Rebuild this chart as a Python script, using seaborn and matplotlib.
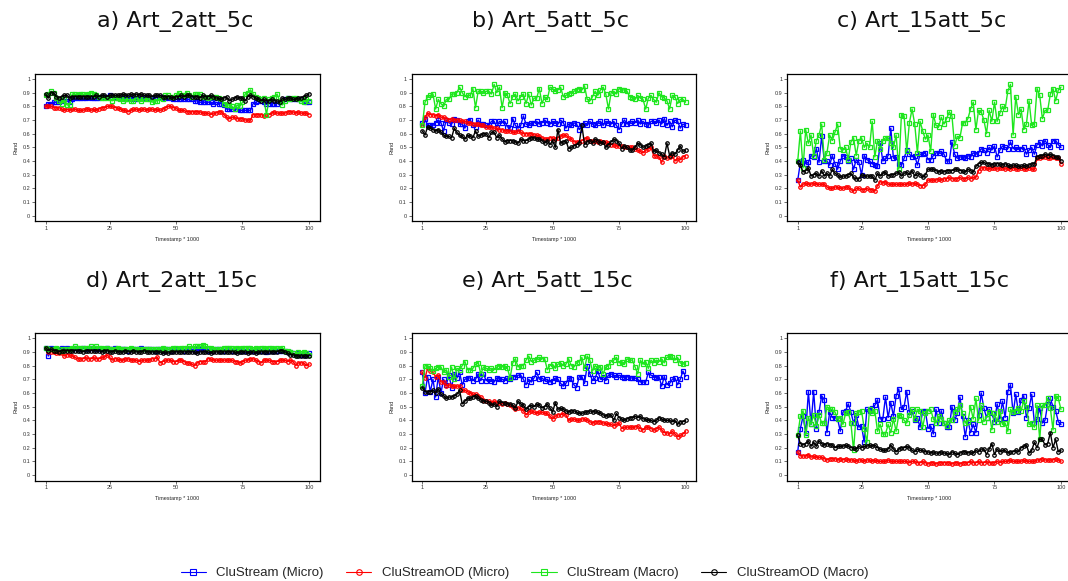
import matplotlib
matplotlib.use('Agg')
import matplotlib.pyplot as plt
from matplotlib.lines import Line2D
import seaborn as sns

timestamps = list(range(1, 101))
x_ticks = [1, 25, 50, 75, 100]
y_ticks = [0, 0.1, 0.2, 0.3, 0.4, 0.5, 0.6, 0.7, 0.8, 0.9, 1]
y_tick_labels = ['0', '0.1', '0.2', '0.3', '0.4', '0.5', '0.6', '0.7', '0.8', '0.9', '1']
methods = ['CluStream (Micro)', 'CluStreamOD (Micro)', 'CluStream (Macro)', 'CluStreamOD (Macro)']
titles = ['a) Art_2att_5c', 'b) Art_5att_5c', 'c) Art_15att_5c',
          'd) Art_2att_15c', 'e) Art_5att_15c', 'f) Art_15att_15c']

# a) Art_2att_5c
a_cs_micro = [0.80, 0.82, 0.82, 0.83, 0.83, 0.83, 0.84, 0.85, 0.84, 0.83,
              0.85, 0.86, 0.86, 0.86, 0.86, 0.86, 0.87, 0.86, 0.86, 0.86,
              0.86, 0.87, 0.87, 0.87, 0.88, 0.87, 0.87, 0.86, 0.86, 0.86,
              0.85, 0.86, 0.85, 0.86, 0.85, 0.86, 0.86, 0.86, 0.86, 0.86,
              0.86, 0.86, 0.87, 0.87, 0.87, 0.86, 0.86, 0.86, 0.85, 0.85,
              0.85, 0.85, 0.85, 0.85, 0.85, 0.85, 0.84, 0.84, 0.83, 0.83,
              0.83, 0.83, 0.83, 0.82, 0.83, 0.82, 0.82, 0.81, 0.78, 0.78,
              0.78, 0.78, 0.78, 0.77, 0.77, 0.77, 0.77, 0.77, 0.82, 0.83,
              0.84, 0.84, 0.83, 0.82, 0.82, 0.82, 0.82, 0.82, 0.83, 0.84,
              0.85, 0.86, 0.85, 0.85, 0.85, 0.85, 0.85, 0.84, 0.83, 0.83]
a_od_micro = [0.80, 0.80, 0.80, 0.79, 0.79, 0.79, 0.78, 0.77, 0.78, 0.77,
              0.78, 0.78, 0.77, 0.77, 0.77, 0.78, 0.78, 0.77, 0.78, 0.77,
              0.78, 0.79, 0.79, 0.80, 0.80, 0.80, 0.79, 0.79, 0.78, 0.77,
              0.77, 0.76, 0.77, 0.78, 0.78, 0.77, 0.78, 0.78, 0.77, 0.78,
              0.78, 0.77, 0.78, 0.77, 0.78, 0.79, 0.80, 0.80, 0.79, 0.79,
              0.77, 0.77, 0.77, 0.76, 0.76, 0.76, 0.76, 0.76, 0.76, 0.75,
              0.75, 0.75, 0.74, 0.75, 0.75, 0.76, 0.76, 0.74, 0.72, 0.71,
              0.72, 0.72, 0.71, 0.71, 0.71, 0.70, 0.70, 0.70, 0.74, 0.74,
              0.74, 0.74, 0.73, 0.74, 0.74, 0.75, 0.76, 0.75, 0.75, 0.75,
              0.75, 0.76, 0.76, 0.76, 0.75, 0.76, 0.75, 0.75, 0.75, 0.74]
a_cs_macro = [0.88, 0.89, 0.91, 0.90, 0.86, 0.84, 0.82, 0.85, 0.81, 0.81,
              0.89, 0.89, 0.88, 0.89, 0.89, 0.88, 0.89, 0.90, 0.89, 0.88,
              0.87, 0.86, 0.86, 0.86, 0.86, 0.84, 0.86, 0.86, 0.85, 0.84,
              0.85, 0.85, 0.84, 0.84, 0.86, 0.85, 0.84, 0.85, 0.85, 0.85,
              0.83, 0.84, 0.84, 0.86, 0.85, 0.88, 0.88, 0.87, 0.87, 0.88,
              0.90, 0.88, 0.88, 0.90, 0.88, 0.87, 0.89, 0.89, 0.89, 0.87,
              0.87, 0.86, 0.87, 0.87, 0.87, 0.86, 0.85, 0.82, 0.81, 0.81,
              0.80, 0.78, 0.81, 0.80, 0.83, 0.89, 0.90, 0.92, 0.89, 0.87,
              0.86, 0.85, 0.86, 0.74, 0.85, 0.86, 0.87, 0.89, 0.84, 0.81,
              0.84, 0.86, 0.85, 0.86, 0.86, 0.85, 0.84, 0.83, 0.85, 0.84]
a_od_macro = [0.89, 0.86, 0.90, 0.90, 0.87, 0.86, 0.87, 0.88, 0.88, 0.86,
              0.87, 0.87, 0.87, 0.87, 0.87, 0.87, 0.87, 0.87, 0.87, 0.88,
              0.87, 0.88, 0.88, 0.87, 0.88, 0.88, 0.88, 0.88, 0.88, 0.89,
              0.88, 0.88, 0.89, 0.88, 0.89, 0.88, 0.89, 0.88, 0.88, 0.88,
              0.87, 0.88, 0.88, 0.88, 0.87, 0.87, 0.87, 0.87, 0.86, 0.87,
              0.87, 0.88, 0.87, 0.88, 0.88, 0.87, 0.87, 0.87, 0.86, 0.88,
              0.87, 0.87, 0.88, 0.87, 0.86, 0.86, 0.85, 0.86, 0.87, 0.84,
              0.85, 0.86, 0.87, 0.86, 0.86, 0.84, 0.87, 0.88, 0.87, 0.86,
              0.85, 0.84, 0.85, 0.84, 0.84, 0.85, 0.84, 0.84, 0.83, 0.86,
              0.85, 0.86, 0.86, 0.85, 0.85, 0.86, 0.86, 0.87, 0.88, 0.89]

# b) Art_5att_5c
b_cs_micro = [0.68, 0.71, 0.66, 0.66, 0.66, 0.68, 0.70, 0.68, 0.62, 0.70,
              0.68, 0.67, 0.71, 0.70, 0.67, 0.67, 0.64, 0.69, 0.70, 0.66,
              0.65, 0.70, 0.67, 0.67, 0.66, 0.66, 0.69, 0.69, 0.65, 0.69,
              0.68, 0.69, 0.65, 0.64, 0.71, 0.66, 0.64, 0.66, 0.73, 0.67,
              0.66, 0.68, 0.68, 0.69, 0.67, 0.68, 0.70, 0.68, 0.67, 0.69,
              0.68, 0.67, 0.70, 0.68, 0.64, 0.67, 0.66, 0.68, 0.67, 0.63,
              0.66, 0.68, 0.66, 0.69, 0.67, 0.66, 0.68, 0.69, 0.66, 0.69,
              0.68, 0.67, 0.69, 0.66, 0.63, 0.67, 0.70, 0.67, 0.68, 0.69,
              0.68, 0.70, 0.67, 0.69, 0.67, 0.66, 0.69, 0.69, 0.68, 0.70,
              0.67, 0.71, 0.66, 0.69, 0.65, 0.70, 0.69, 0.64, 0.67, 0.66]
b_od_micro = [0.66, 0.72, 0.75, 0.74, 0.74, 0.73, 0.74, 0.72, 0.72, 0.71,
              0.70, 0.71, 0.70, 0.70, 0.70, 0.69, 0.69, 0.68, 0.68, 0.67,
              0.67, 0.67, 0.66, 0.66, 0.65, 0.65, 0.65, 0.64, 0.64, 0.63,
              0.63, 0.62, 0.62, 0.62, 0.61, 0.61, 0.62, 0.61, 0.60, 0.60,
              0.60, 0.60, 0.59, 0.59, 0.58, 0.57, 0.56, 0.56, 0.57, 0.57,
              0.56, 0.57, 0.58, 0.59, 0.59, 0.57, 0.56, 0.54, 0.54, 0.54,
              0.55, 0.56, 0.57, 0.55, 0.55, 0.55, 0.54, 0.55, 0.54, 0.54,
              0.53, 0.52, 0.52, 0.51, 0.51, 0.51, 0.50, 0.50, 0.50, 0.50,
              0.49, 0.48, 0.47, 0.46, 0.48, 0.49, 0.50, 0.44, 0.44, 0.43,
              0.39, 0.44, 0.42, 0.43, 0.44, 0.40, 0.42, 0.41, 0.43, 0.44]
b_cs_macro = [0.66, 0.83, 0.87, 0.88, 0.89, 0.78, 0.85, 0.82, 0.80, 0.85,
              0.85, 0.89, 0.89, 0.90, 0.94, 0.90, 0.87, 0.88, 0.88, 0.93,
              0.79, 0.91, 0.91, 0.90, 0.91, 0.91, 0.89, 0.96, 0.90, 0.94,
              0.79, 0.90, 0.88, 0.82, 0.87, 0.89, 0.84, 0.87, 0.89, 0.82,
              0.89, 0.81, 0.86, 0.86, 0.93, 0.82, 0.87, 0.85, 0.94, 0.93,
              0.91, 0.92, 0.94, 0.87, 0.88, 0.89, 0.90, 0.91, 0.92, 0.93,
              0.92, 0.95, 0.85, 0.84, 0.87, 0.91, 0.88, 0.92, 0.94, 0.89,
              0.78, 0.90, 0.91, 0.89, 0.93, 0.92, 0.92, 0.91, 0.87, 0.86,
              0.85, 0.88, 0.86, 0.85, 0.78, 0.86, 0.88, 0.85, 0.83, 0.90,
              0.87, 0.86, 0.84, 0.78, 0.88, 0.87, 0.82, 0.85, 0.85, 0.83]
b_od_macro = [0.62, 0.59, 0.65, 0.64, 0.63, 0.62, 0.63, 0.61, 0.59, 0.58,
              0.58, 0.57, 0.64, 0.61, 0.59, 0.58, 0.56, 0.59, 0.58, 0.57,
              0.62, 0.58, 0.59, 0.60, 0.60, 0.57, 0.61, 0.61, 0.57, 0.59,
              0.56, 0.54, 0.55, 0.55, 0.55, 0.54, 0.53, 0.56, 0.55, 0.55,
              0.56, 0.57, 0.57, 0.56, 0.56, 0.55, 0.53, 0.55, 0.52, 0.55,
              0.50, 0.63, 0.53, 0.54, 0.55, 0.49, 0.50, 0.51, 0.52, 0.53,
              0.66, 0.52, 0.54, 0.55, 0.53, 0.56, 0.55, 0.53, 0.54, 0.50,
              0.52, 0.54, 0.56, 0.55, 0.53, 0.49, 0.51, 0.50, 0.48, 0.48,
              0.50, 0.53, 0.52, 0.50, 0.51, 0.52, 0.53, 0.47, 0.48, 0.46,
              0.45, 0.43, 0.53, 0.44, 0.46, 0.45, 0.48, 0.51, 0.47, 0.48]

# c) Art_15att_5c
c_cs_micro = [0.26, 0.39, 0.41, 0.38, 0.39, 0.44, 0.43, 0.49, 0.39, 0.58,
              0.40, 0.40, 0.37, 0.44, 0.38, 0.34, 0.40, 0.44, 0.43, 0.40,
              0.42, 0.34, 0.41, 0.39, 0.30, 0.44, 0.41, 0.40, 0.38, 0.37,
              0.36, 0.53, 0.40, 0.42, 0.44, 0.64, 0.42, 0.43, 0.38, 0.37,
              0.42, 0.48, 0.45, 0.43, 0.44, 0.37, 0.45, 0.45, 0.46, 0.41,
              0.41, 0.44, 0.46, 0.46, 0.47, 0.45, 0.40, 0.40, 0.54, 0.45,
              0.42, 0.43, 0.43, 0.42, 0.44, 0.43, 0.46, 0.45, 0.46, 0.49,
              0.48, 0.46, 0.50, 0.48, 0.51, 0.43, 0.48, 0.51, 0.50, 0.49,
              0.54, 0.49, 0.50, 0.49, 0.49, 0.50, 0.45, 0.48, 0.50, 0.45,
              0.52, 0.54, 0.51, 0.55, 0.52, 0.50, 0.55, 0.55, 0.52, 0.50]
c_od_micro = [0.26, 0.21, 0.23, 0.24, 0.23, 0.23, 0.24, 0.23, 0.23, 0.23,
              0.23, 0.21, 0.20, 0.20, 0.21, 0.21, 0.20, 0.20, 0.21, 0.21,
              0.19, 0.18, 0.20, 0.20, 0.19, 0.19, 0.20, 0.19, 0.19, 0.18,
              0.22, 0.25, 0.24, 0.25, 0.23, 0.23, 0.23, 0.23, 0.23, 0.23,
              0.23, 0.23, 0.24, 0.23, 0.24, 0.23, 0.22, 0.22, 0.23, 0.26,
              0.26, 0.26, 0.26, 0.27, 0.26, 0.27, 0.27, 0.28, 0.27, 0.27,
              0.27, 0.28, 0.27, 0.27, 0.28, 0.27, 0.28, 0.28, 0.33, 0.35,
              0.35, 0.35, 0.34, 0.35, 0.35, 0.34, 0.35, 0.35, 0.34, 0.35,
              0.34, 0.35, 0.34, 0.34, 0.35, 0.34, 0.34, 0.35, 0.34, 0.34,
              0.42, 0.42, 0.43, 0.43, 0.42, 0.42, 0.43, 0.42, 0.42, 0.38]
c_cs_macro = [0.40, 0.62, 0.35, 0.63, 0.53, 0.59, 0.44, 0.55, 0.59, 0.67,
              0.41, 0.46, 0.59, 0.55, 0.61, 0.67, 0.49, 0.48, 0.50, 0.41,
              0.54, 0.57, 0.44, 0.55, 0.57, 0.50, 0.53, 0.50, 0.69, 0.43,
              0.55, 0.49, 0.55, 0.57, 0.57, 0.53, 0.50, 0.59, 0.34, 0.74,
              0.73, 0.47, 0.68, 0.78, 0.67, 0.46, 0.69, 0.62, 0.56, 0.59,
              0.47, 0.74, 0.66, 0.65, 0.72, 0.67, 0.71, 0.76, 0.73, 0.51,
              0.58, 0.57, 0.68, 0.68, 0.71, 0.78, 0.83, 0.63, 0.77, 0.76,
              0.70, 0.60, 0.77, 0.69, 0.83, 0.69, 0.75, 0.80, 0.78, 0.91,
              0.96, 0.59, 0.87, 0.74, 0.78, 0.63, 0.67, 0.84, 0.66, 0.67,
              0.93, 0.88, 0.71, 0.77, 0.77, 0.89, 0.93, 0.84, 0.92, 0.94]
c_od_macro = [0.39, 0.37, 0.32, 0.33, 0.35, 0.29, 0.30, 0.31, 0.29, 0.33,
              0.29, 0.31, 0.29, 0.34, 0.31, 0.30, 0.28, 0.29, 0.29, 0.30,
              0.31, 0.28, 0.27, 0.27, 0.30, 0.29, 0.29, 0.29, 0.29, 0.26,
              0.31, 0.29, 0.31, 0.32, 0.29, 0.30, 0.30, 0.31, 0.32, 0.29,
              0.31, 0.32, 0.30, 0.33, 0.29, 0.31, 0.30, 0.28, 0.30, 0.34,
              0.34, 0.34, 0.33, 0.32, 0.33, 0.32, 0.33, 0.33, 0.33, 0.34,
              0.34, 0.33, 0.33, 0.32, 0.34, 0.33, 0.32, 0.36, 0.38, 0.39,
              0.39, 0.38, 0.38, 0.37, 0.38, 0.38, 0.38, 0.37, 0.38, 0.37,
              0.36, 0.37, 0.37, 0.36, 0.36, 0.37, 0.36, 0.37, 0.38, 0.38,
              0.43, 0.44, 0.44, 0.45, 0.44, 0.45, 0.44, 0.43, 0.43, 0.40]

# d) Art_2att_15c
d_cs_micro = [0.93, 0.87, 0.93, 0.92, 0.92, 0.92, 0.93, 0.92, 0.93, 0.92,
              0.92, 0.93, 0.92, 0.92, 0.93, 0.92, 0.92, 0.93, 0.93, 0.92,
              0.92, 0.92, 0.92, 0.93, 0.92, 0.92, 0.93, 0.92, 0.92, 0.92,
              0.92, 0.91, 0.92, 0.92, 0.92, 0.92, 0.93, 0.92, 0.92, 0.92,
              0.92, 0.91, 0.92, 0.92, 0.91, 0.92, 0.92, 0.91, 0.92, 0.92,
              0.92, 0.92, 0.91, 0.92, 0.92, 0.92, 0.91, 0.92, 0.92, 0.92,
              0.92, 0.91, 0.92, 0.91, 0.92, 0.92, 0.91, 0.91, 0.92, 0.92,
              0.91, 0.91, 0.92, 0.91, 0.91, 0.91, 0.91, 0.91, 0.91, 0.91,
              0.91, 0.91, 0.91, 0.90, 0.91, 0.91, 0.91, 0.91, 0.91, 0.91,
              0.91, 0.90, 0.90, 0.89, 0.88, 0.89, 0.88, 0.88, 0.88, 0.89]
d_od_micro = [0.93, 0.90, 0.90, 0.90, 0.89, 0.89, 0.89, 0.87, 0.88, 0.88,
              0.87, 0.86, 0.85, 0.85, 0.85, 0.86, 0.85, 0.85, 0.86, 0.85,
              0.85, 0.86, 0.86, 0.88, 0.86, 0.84, 0.85, 0.85, 0.84, 0.84,
              0.85, 0.85, 0.84, 0.84, 0.84, 0.83, 0.84, 0.84, 0.84, 0.84,
              0.85, 0.85, 0.86, 0.82, 0.83, 0.84, 0.84, 0.84, 0.83, 0.83,
              0.84, 0.84, 0.83, 0.82, 0.82, 0.81, 0.80, 0.82, 0.83, 0.83,
              0.83, 0.85, 0.85, 0.84, 0.84, 0.84, 0.84, 0.84, 0.84, 0.84,
              0.84, 0.83, 0.83, 0.82, 0.83, 0.84, 0.84, 0.85, 0.85, 0.84,
              0.83, 0.82, 0.84, 0.84, 0.84, 0.83, 0.83, 0.83, 0.84, 0.84,
              0.84, 0.83, 0.84, 0.83, 0.80, 0.82, 0.82, 0.82, 0.80, 0.81]
d_cs_macro = [0.93, 0.92, 0.92, 0.92, 0.93, 0.92, 0.91, 0.92, 0.92, 0.92,
              0.93, 0.94, 0.93, 0.93, 0.93, 0.93, 0.93, 0.94, 0.93, 0.94,
              0.93, 0.93, 0.92, 0.93, 0.92, 0.92, 0.92, 0.93, 0.92, 0.92,
              0.92, 0.92, 0.93, 0.92, 0.92, 0.92, 0.92, 0.92, 0.92, 0.92,
              0.92, 0.92, 0.92, 0.92, 0.93, 0.92, 0.92, 0.92, 0.93, 0.93,
              0.92, 0.93, 0.93, 0.93, 0.94, 0.93, 0.94, 0.94, 0.94, 0.95,
              0.94, 0.93, 0.93, 0.92, 0.92, 0.92, 0.92, 0.93, 0.93, 0.93,
              0.93, 0.92, 0.93, 0.92, 0.93, 0.93, 0.93, 0.93, 0.92, 0.93,
              0.92, 0.93, 0.93, 0.92, 0.93, 0.93, 0.92, 0.93, 0.92, 0.93,
              0.91, 0.91, 0.90, 0.89, 0.88, 0.90, 0.89, 0.90, 0.89, 0.88]
d_od_macro = [0.93, 0.91, 0.92, 0.91, 0.91, 0.90, 0.91, 0.91, 0.91, 0.91,
              0.91, 0.91, 0.91, 0.91, 0.90, 0.91, 0.91, 0.91, 0.91, 0.91,
              0.91, 0.90, 0.91, 0.91, 0.90, 0.90, 0.91, 0.90, 0.90, 0.90,
              0.91, 0.90, 0.90, 0.91, 0.90, 0.90, 0.90, 0.91, 0.90, 0.90,
              0.90, 0.90, 0.90, 0.90, 0.89, 0.90, 0.89, 0.90, 0.90, 0.90,
              0.90, 0.90, 0.90, 0.90, 0.90, 0.90, 0.90, 0.89, 0.90, 0.90,
              0.90, 0.90, 0.89, 0.90, 0.90, 0.90, 0.90, 0.90, 0.90, 0.90,
              0.90, 0.90, 0.89, 0.90, 0.90, 0.90, 0.89, 0.90, 0.90, 0.89,
              0.90, 0.90, 0.90, 0.90, 0.90, 0.90, 0.90, 0.90, 0.91, 0.91,
              0.90, 0.89, 0.88, 0.88, 0.87, 0.87, 0.87, 0.87, 0.87, 0.87]

# e) Art_5att_15c
e_cs_micro = [0.75, 0.60, 0.72, 0.61, 0.70, 0.57, 0.72, 0.60, 0.70, 0.66,
              0.73, 0.64, 0.74, 0.71, 0.75, 0.66, 0.70, 0.71, 0.71, 0.69,
              0.70, 0.74, 0.69, 0.74, 0.69, 0.70, 0.69, 0.68, 0.71, 0.70,
              0.70, 0.69, 0.71, 0.70, 0.72, 0.72, 0.73, 0.73, 0.70, 0.66,
              0.70, 0.68, 0.71, 0.75, 0.70, 0.71, 0.69, 0.70, 0.68, 0.69,
              0.71, 0.70, 0.67, 0.65, 0.67, 0.71, 0.70, 0.66, 0.64, 0.72,
              0.72, 0.67, 0.80, 0.74, 0.69, 0.71, 0.76, 0.70, 0.72, 0.69,
              0.73, 0.74, 0.73, 0.72, 0.73, 0.72, 0.71, 0.72, 0.71, 0.71,
              0.71, 0.70, 0.68, 0.68, 0.68, 0.75, 0.73, 0.72, 0.71, 0.72,
              0.65, 0.72, 0.66, 0.67, 0.70, 0.71, 0.66, 0.70, 0.76, 0.72]
e_od_micro = [0.75, 0.71, 0.78, 0.76, 0.75, 0.72, 0.73, 0.68, 0.68, 0.65,
              0.66, 0.65, 0.65, 0.65, 0.65, 0.62, 0.62, 0.61, 0.60, 0.59,
              0.59, 0.58, 0.57, 0.55, 0.54, 0.54, 0.53, 0.54, 0.53, 0.53,
              0.52, 0.53, 0.52, 0.51, 0.50, 0.48, 0.49, 0.49, 0.47, 0.44,
              0.46, 0.47, 0.46, 0.45, 0.46, 0.46, 0.45, 0.45, 0.43, 0.41,
              0.43, 0.44, 0.44, 0.45, 0.44, 0.40, 0.41, 0.41, 0.40, 0.40,
              0.41, 0.41, 0.40, 0.39, 0.38, 0.39, 0.39, 0.39, 0.38, 0.38,
              0.37, 0.37, 0.36, 0.37, 0.38, 0.34, 0.35, 0.35, 0.35, 0.35,
              0.35, 0.36, 0.34, 0.33, 0.35, 0.35, 0.34, 0.33, 0.34, 0.35,
              0.33, 0.31, 0.31, 0.30, 0.32, 0.30, 0.28, 0.29, 0.30, 0.32]
e_cs_macro = [0.65, 0.80, 0.80, 0.78, 0.76, 0.78, 0.79, 0.79, 0.75, 0.77,
              0.72, 0.79, 0.70, 0.78, 0.77, 0.80, 0.83, 0.77, 0.77, 0.78,
              0.81, 0.82, 0.74, 0.79, 0.78, 0.77, 0.78, 0.77, 0.79, 0.80,
              0.79, 0.80, 0.78, 0.71, 0.82, 0.85, 0.79, 0.80, 0.80, 0.84,
              0.87, 0.83, 0.84, 0.85, 0.86, 0.85, 0.85, 0.77, 0.80, 0.81,
              0.78, 0.81, 0.82, 0.80, 0.81, 0.85, 0.80, 0.79, 0.82, 0.83,
              0.86, 0.78, 0.87, 0.84, 0.76, 0.80, 0.78, 0.79, 0.74, 0.79,
              0.80, 0.83, 0.84, 0.86, 0.82, 0.83, 0.81, 0.85, 0.84, 0.84,
              0.79, 0.74, 0.84, 0.81, 0.83, 0.78, 0.84, 0.82, 0.84, 0.83,
              0.85, 0.82, 0.86, 0.87, 0.86, 0.84, 0.86, 0.82, 0.81, 0.82]
e_od_macro = [0.64, 0.61, 0.61, 0.61, 0.62, 0.60, 0.63, 0.59, 0.58, 0.56,
              0.57, 0.57, 0.58, 0.59, 0.62, 0.52, 0.54, 0.56, 0.56, 0.57,
              0.58, 0.56, 0.55, 0.54, 0.54, 0.53, 0.51, 0.52, 0.50, 0.54,
              0.53, 0.53, 0.52, 0.52, 0.51, 0.49, 0.54, 0.52, 0.51, 0.48,
              0.50, 0.51, 0.50, 0.52, 0.51, 0.49, 0.50, 0.52, 0.49, 0.46,
              0.53, 0.48, 0.49, 0.48, 0.47, 0.46, 0.47, 0.47, 0.46, 0.45,
              0.45, 0.46, 0.46, 0.47, 0.46, 0.47, 0.46, 0.45, 0.44, 0.43,
              0.44, 0.44, 0.40, 0.45, 0.42, 0.41, 0.40, 0.41, 0.42, 0.42,
              0.43, 0.42, 0.43, 0.41, 0.41, 0.40, 0.40, 0.39, 0.40, 0.42,
              0.41, 0.40, 0.40, 0.40, 0.39, 0.40, 0.37, 0.39, 0.39, 0.40]

# f) Art_15att_15c
f_cs_micro = [0.17, 0.34, 0.43, 0.31, 0.61, 0.37, 0.61, 0.34, 0.46, 0.58,
              0.55, 0.31, 0.46, 0.42, 0.42, 0.41, 0.32, 0.46, 0.47, 0.52,
              0.46, 0.38, 0.44, 0.35, 0.36, 0.24, 0.48, 0.47, 0.49, 0.51,
              0.55, 0.41, 0.41, 0.57, 0.42, 0.53, 0.43, 0.58, 0.63, 0.48,
              0.50, 0.61, 0.46, 0.47, 0.40, 0.42, 0.35, 0.47, 0.47, 0.34,
              0.36, 0.30, 0.48, 0.38, 0.47, 0.38, 0.35, 0.35, 0.50, 0.40,
              0.45, 0.57, 0.43, 0.28, 0.40, 0.31, 0.37, 0.31, 0.44, 0.60,
              0.49, 0.42, 0.48, 0.45, 0.39, 0.52, 0.41, 0.54, 0.42, 0.61,
              0.66, 0.45, 0.59, 0.46, 0.55, 0.58, 0.42, 0.49, 0.59, 0.38,
              0.41, 0.49, 0.38, 0.40, 0.52, 0.56, 0.50, 0.47, 0.39, 0.37]
f_od_micro = [0.17, 0.14, 0.14, 0.14, 0.15, 0.13, 0.14, 0.13, 0.13, 0.13,
              0.12, 0.11, 0.12, 0.12, 0.12, 0.11, 0.12, 0.11, 0.12, 0.11,
              0.11, 0.11, 0.10, 0.11, 0.11, 0.10, 0.11, 0.11, 0.10, 0.11,
              0.10, 0.10, 0.10, 0.10, 0.11, 0.10, 0.10, 0.10, 0.10, 0.10,
              0.10, 0.10, 0.09, 0.10, 0.10, 0.09, 0.09, 0.10, 0.09, 0.08,
              0.09, 0.09, 0.08, 0.09, 0.09, 0.09, 0.09, 0.09, 0.08, 0.09,
              0.09, 0.08, 0.09, 0.09, 0.09, 0.10, 0.09, 0.09, 0.10, 0.09,
              0.09, 0.10, 0.09, 0.09, 0.09, 0.10, 0.09, 0.10, 0.10, 0.10,
              0.11, 0.10, 0.10, 0.10, 0.10, 0.11, 0.10, 0.10, 0.10, 0.10,
              0.11, 0.11, 0.12, 0.11, 0.11, 0.11, 0.11, 0.12, 0.11, 0.10]
f_cs_macro = [0.29, 0.43, 0.47, 0.29, 0.42, 0.37, 0.44, 0.36, 0.44, 0.38,
              0.38, 0.50, 0.48, 0.48, 0.46, 0.41, 0.42, 0.37, 0.45, 0.46,
              0.38, 0.18, 0.45, 0.46, 0.47, 0.34, 0.24, 0.48, 0.45, 0.47,
              0.32, 0.37, 0.30, 0.30, 0.37, 0.31, 0.41, 0.32, 0.44, 0.43,
              0.40, 0.38, 0.44, 0.48, 0.41, 0.48, 0.47, 0.35, 0.45, 0.47,
              0.48, 0.41, 0.38, 0.43, 0.41, 0.38, 0.36, 0.40, 0.40, 0.46,
              0.48, 0.51, 0.45, 0.38, 0.39, 0.50, 0.41, 0.56, 0.40, 0.51,
              0.39, 0.42, 0.46, 0.33, 0.45, 0.39, 0.47, 0.37, 0.38, 0.32,
              0.48, 0.46, 0.47, 0.49, 0.47, 0.54, 0.50, 0.37, 0.38, 0.35,
              0.51, 0.26, 0.51, 0.51, 0.56, 0.49, 0.33, 0.58, 0.56, 0.48]
f_od_macro = [0.29, 0.23, 0.22, 0.23, 0.25, 0.21, 0.24, 0.21, 0.25, 0.23,
              0.22, 0.23, 0.22, 0.22, 0.20, 0.21, 0.21, 0.21, 0.22, 0.21,
              0.20, 0.20, 0.19, 0.21, 0.20, 0.21, 0.21, 0.22, 0.21, 0.22,
              0.20, 0.19, 0.18, 0.18, 0.19, 0.22, 0.19, 0.17, 0.19, 0.20,
              0.20, 0.21, 0.20, 0.18, 0.17, 0.19, 0.18, 0.18, 0.17, 0.17,
              0.16, 0.17, 0.16, 0.16, 0.17, 0.16, 0.16, 0.15, 0.17, 0.16,
              0.15, 0.16, 0.17, 0.17, 0.16, 0.17, 0.16, 0.18, 0.17, 0.19,
              0.19, 0.15, 0.19, 0.23, 0.15, 0.19, 0.17, 0.18, 0.18, 0.16,
              0.17, 0.17, 0.18, 0.17, 0.20, 0.21, 0.22, 0.16, 0.18, 0.24,
              0.20, 0.26, 0.26, 0.22, 0.23, 0.31, 0.20, 0.26, 0.17, 0.18]

panels = [
    [a_cs_micro, a_od_micro, a_cs_macro, a_od_macro],
    [b_cs_micro, b_od_micro, b_cs_macro, b_od_macro],
    [c_cs_micro, c_od_micro, c_cs_macro, c_od_macro],
    [d_cs_micro, d_od_micro, d_cs_macro, d_od_macro],
    [e_cs_micro, e_od_micro, e_cs_macro, e_od_macro],
    [f_cs_micro, f_od_micro, f_cs_macro, f_od_macro],
]

colors = ['#0000ff', '#ff0000', '#1ee61e', '#000000']
markers = ['s', 'o', 's', 'o']

sns.set_style('white')
plt.rcParams['font.family'] = ['Liberation Sans', 'DejaVu Sans']

W, H = 1068, 581
fig = plt.figure(figsize=(W / 100, H / 100), dpi=100)

# axes boxes in pixels (left, top); all the same size
box_w, box_h = 284.3, 147.7
boxes = [(35.2, 73.5), (411.8, 73.5), (787.2, 73.5),
         (35.2, 332.8), (411.8, 332.8), (787.2, 332.8)]
title_pos = [(175, 21), (551, 21), (922, 21), (172, 282), (547, 282), (920, 282)]

for i, (left, top) in enumerate(boxes):
    ax = fig.add_axes([left / W, 1 - (top + box_h) / H, box_w / W, box_h / H])
    for vals, c, m, lab in zip(panels[i], colors, markers, methods):
        sns.lineplot(x=timestamps, y=vals, ax=ax, color=c, marker=m, markersize=2.5,
                     markerfacecolor='none', markeredgecolor=c, markeredgewidth=0.9,
                     linewidth=1.0, label=lab, legend=False)
    ax.set_xlim(-2.96, 103.96)
    ax.set_ylim(-0.04, 1.04)
    ax.set_xticks(x_ticks)
    ax.set_xticklabels([str(t) for t in x_ticks])
    ax.set_yticks(y_ticks)
    ax.set_yticklabels(y_tick_labels)
    ax.set_xlabel('Timestamp * 1000', fontsize=4, labelpad=4)
    ax.set_ylabel('Rand', fontsize=4, labelpad=3)
    ax.tick_params(axis='both', direction='out', length=2, width=0.5, labelsize=4,
                   pad=1.5, left=True, bottom=True, colors='#333333')
    for sp in ax.spines.values():
        sp.set_color('black')
        sp.set_linewidth(0.9)
    fig.text(title_pos[i][0] / W, 1 - title_pos[i][1] / H, titles[i], ha='center', va='center',
             fontsize=16, family='DejaVu Sans', color='#111111')

# legend keys drawn thinner than the plotted lines, like the original
handles = [Line2D([], [], color=c, marker=m, markersize=4, markerfacecolor='none',
                  markeredgecolor=c, markeredgewidth=0.8, linewidth=0.8)
           for c, m in zip(colors, markers)]
fig.legend(handles, methods, loc='center', bbox_to_anchor=(524.5 / W, 1 - 573 / H), ncol=4,
           frameon=False, fontsize=9.5, handlelength=1.9, handletextpad=0.8,
           columnspacing=1.7)

fig.savefig('out.png', dpi=100)
plt.close()
